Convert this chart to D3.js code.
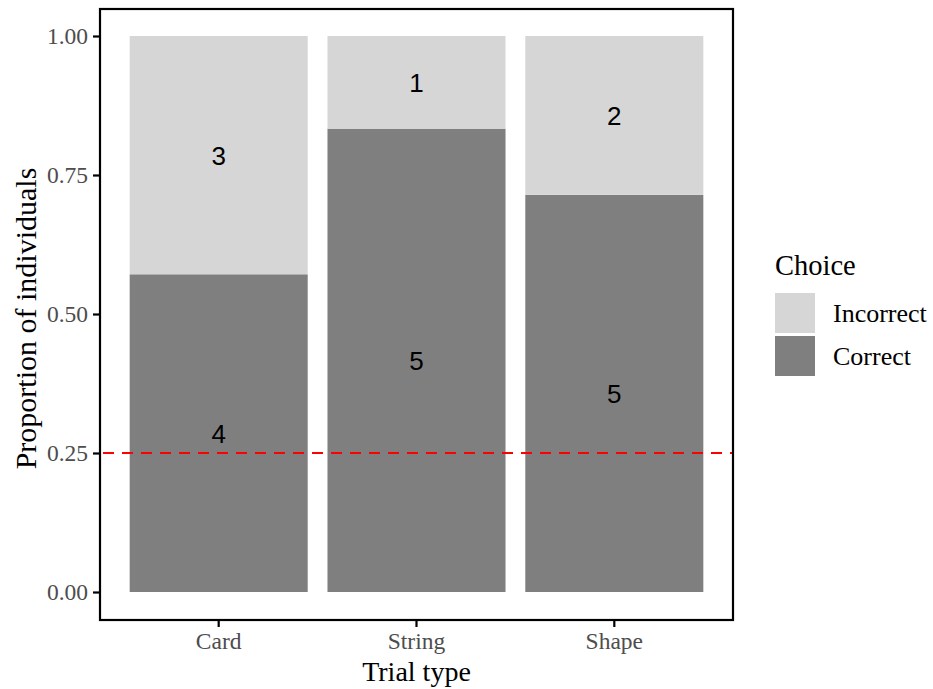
<!DOCTYPE html>
<html>
<head>
<meta charset="utf-8">
<script src="https://cdn.jsdelivr.net/npm/d3@7"></script>
<style>
body { margin: 0; background: #fff; }
svg { display: block; }
</style>
</head>
<body>
<svg id="chart" width="933" height="689"></svg>
<script>
const categories = ["Card", "String", "Shape"];
const correctCounts = [4, 5, 5];
const incorrectCounts = [3, 1, 2];
const yTicks = [0, 0.25, 0.5, 0.75, 1.0];
const chanceLevel = 0.25;
const legendLabels = ["Incorrect", "Correct"];

const svg = d3.select("#chart");
const panel = { left: 100, right: 733, top: 9, bottom: 620 };

const x = d3.scaleBand()
  .domain(categories)
  .range([panel.left, panel.right])
  .paddingInner(0.1)
  .paddingOuter(0.15);

const y = d3.scaleLinear()
  .domain([0, 1])
  .range([592, 36]);

const colors = { Incorrect: "#d6d6d6", Correct: "#7f7f7f" };

const rows = categories.map((c, i) => {
  const tot = correctCounts[i] + incorrectCounts[i];
  const pc = correctCounts[i] / tot;
  return { cat: c, correct: correctCounts[i], incorrect: incorrectCounts[i], pc };
});

const g = svg.append("g");

g.selectAll("rect.correct").data(rows).enter().append("rect")
  .attr("x", d => x(d.cat)).attr("width", x.bandwidth())
  .attr("y", d => y(d.pc)).attr("height", d => y(0) - y(d.pc))
  .attr("fill", colors.Correct);
g.selectAll("rect.incorrect").data(rows).enter().append("rect")
  .attr("x", d => x(d.cat)).attr("width", x.bandwidth())
  .attr("y", d => y(1)).attr("height", d => y(d.pc) - y(1))
  .attr("fill", colors.Incorrect);

const lblFont = "'Liberation Sans', Arial, sans-serif";
g.selectAll("text.cl").data(rows).enter().append("text")
  .attr("x", d => x(d.cat) + x.bandwidth() / 2)
  .attr("y", d => y(d.pc / 2))
  .attr("dy", "0.36em")
  .attr("text-anchor", "middle")
  .attr("font-family", lblFont).attr("font-size", 26)
  .attr("fill", "#000")
  .text(d => d.correct);
g.selectAll("text.il").data(rows).enter().append("text")
  .attr("x", d => x(d.cat) + x.bandwidth() / 2)
  .attr("y", d => y(d.pc + (1 - d.pc) / 2))
  .attr("dy", "0.36em")
  .attr("text-anchor", "middle")
  .attr("font-family", lblFont).attr("font-size", 26)
  .attr("fill", "#000")
  .text(d => d.incorrect);

g.append("line")
  .attr("x1", panel.left).attr("x2", panel.right)
  .attr("y1", y(chanceLevel)).attr("y2", y(chanceLevel))
  .attr("stroke", "#ff0000").attr("stroke-width", 2)
  .attr("stroke-dasharray", "11,8")
  .attr("stroke-dashoffset", -3);

g.append("rect")
  .attr("x", panel.left).attr("y", panel.top)
  .attr("width", panel.right - panel.left).attr("height", panel.bottom - panel.top)
  .attr("fill", "none").attr("stroke", "#000").attr("stroke-width", 2.2);

const serif = "'Liberation Serif', 'Times New Roman', serif";

const yAxis = d3.axisLeft(y).tickValues(yTicks).tickFormat(d3.format(".2f")).tickSize(7).tickPadding(5);
const ya = svg.append("g").attr("transform", `translate(${panel.left},0)`).call(yAxis);
ya.select(".domain").remove();
ya.selectAll(".tick line").attr("stroke", "#000").attr("stroke-width", 2.2);
ya.selectAll(".tick text").attr("font-family", serif).attr("font-size", 23.5).attr("fill", "#4d4d4d");

const xAxis = d3.axisBottom(x).tickSize(7).tickPadding(5);
const xa = svg.append("g").attr("transform", `translate(0,${panel.bottom})`).call(xAxis);
xa.select(".domain").remove();
xa.selectAll(".tick line").attr("stroke", "#000").attr("stroke-width", 2.2);
xa.selectAll(".tick text").attr("font-family", serif).attr("font-size", 23.5).attr("fill", "#4d4d4d");

svg.append("text")
  .attr("x", (panel.left + panel.right) / 2).attr("y", 681)
  .attr("text-anchor", "middle")
  .attr("font-family", serif).attr("font-size", 28).attr("fill", "#000")
  .text("Trial type");
svg.append("text")
  .attr("transform", `translate(36,${(panel.top + panel.bottom) / 2 + 4}) rotate(-90)`)
  .attr("text-anchor", "middle")
  .attr("font-family", serif).attr("font-size", 30).attr("fill", "#000")
  .text("Proportion of individuals");

const lg = svg.append("g").attr("transform", "translate(775,0)");
lg.append("text").attr("x", 0).attr("y", 275)
  .attr("font-family", serif).attr("font-size", 28.5).attr("fill", "#000")
  .text("Choice");
legendLabels.forEach((lab, i) => {
  const top = 293 + i * 43;
  lg.append("rect").attr("x", 0).attr("y", top).attr("width", 40).attr("height", 40)
    .attr("fill", colors[lab]);
  lg.append("text").attr("x", 58).attr("y", top + 20).attr("dy", "0.33em")
    .attr("font-family", serif).attr("font-size", 26).attr("fill", "#000")
    .text(lab);
});
</script>
</body>
</html>
